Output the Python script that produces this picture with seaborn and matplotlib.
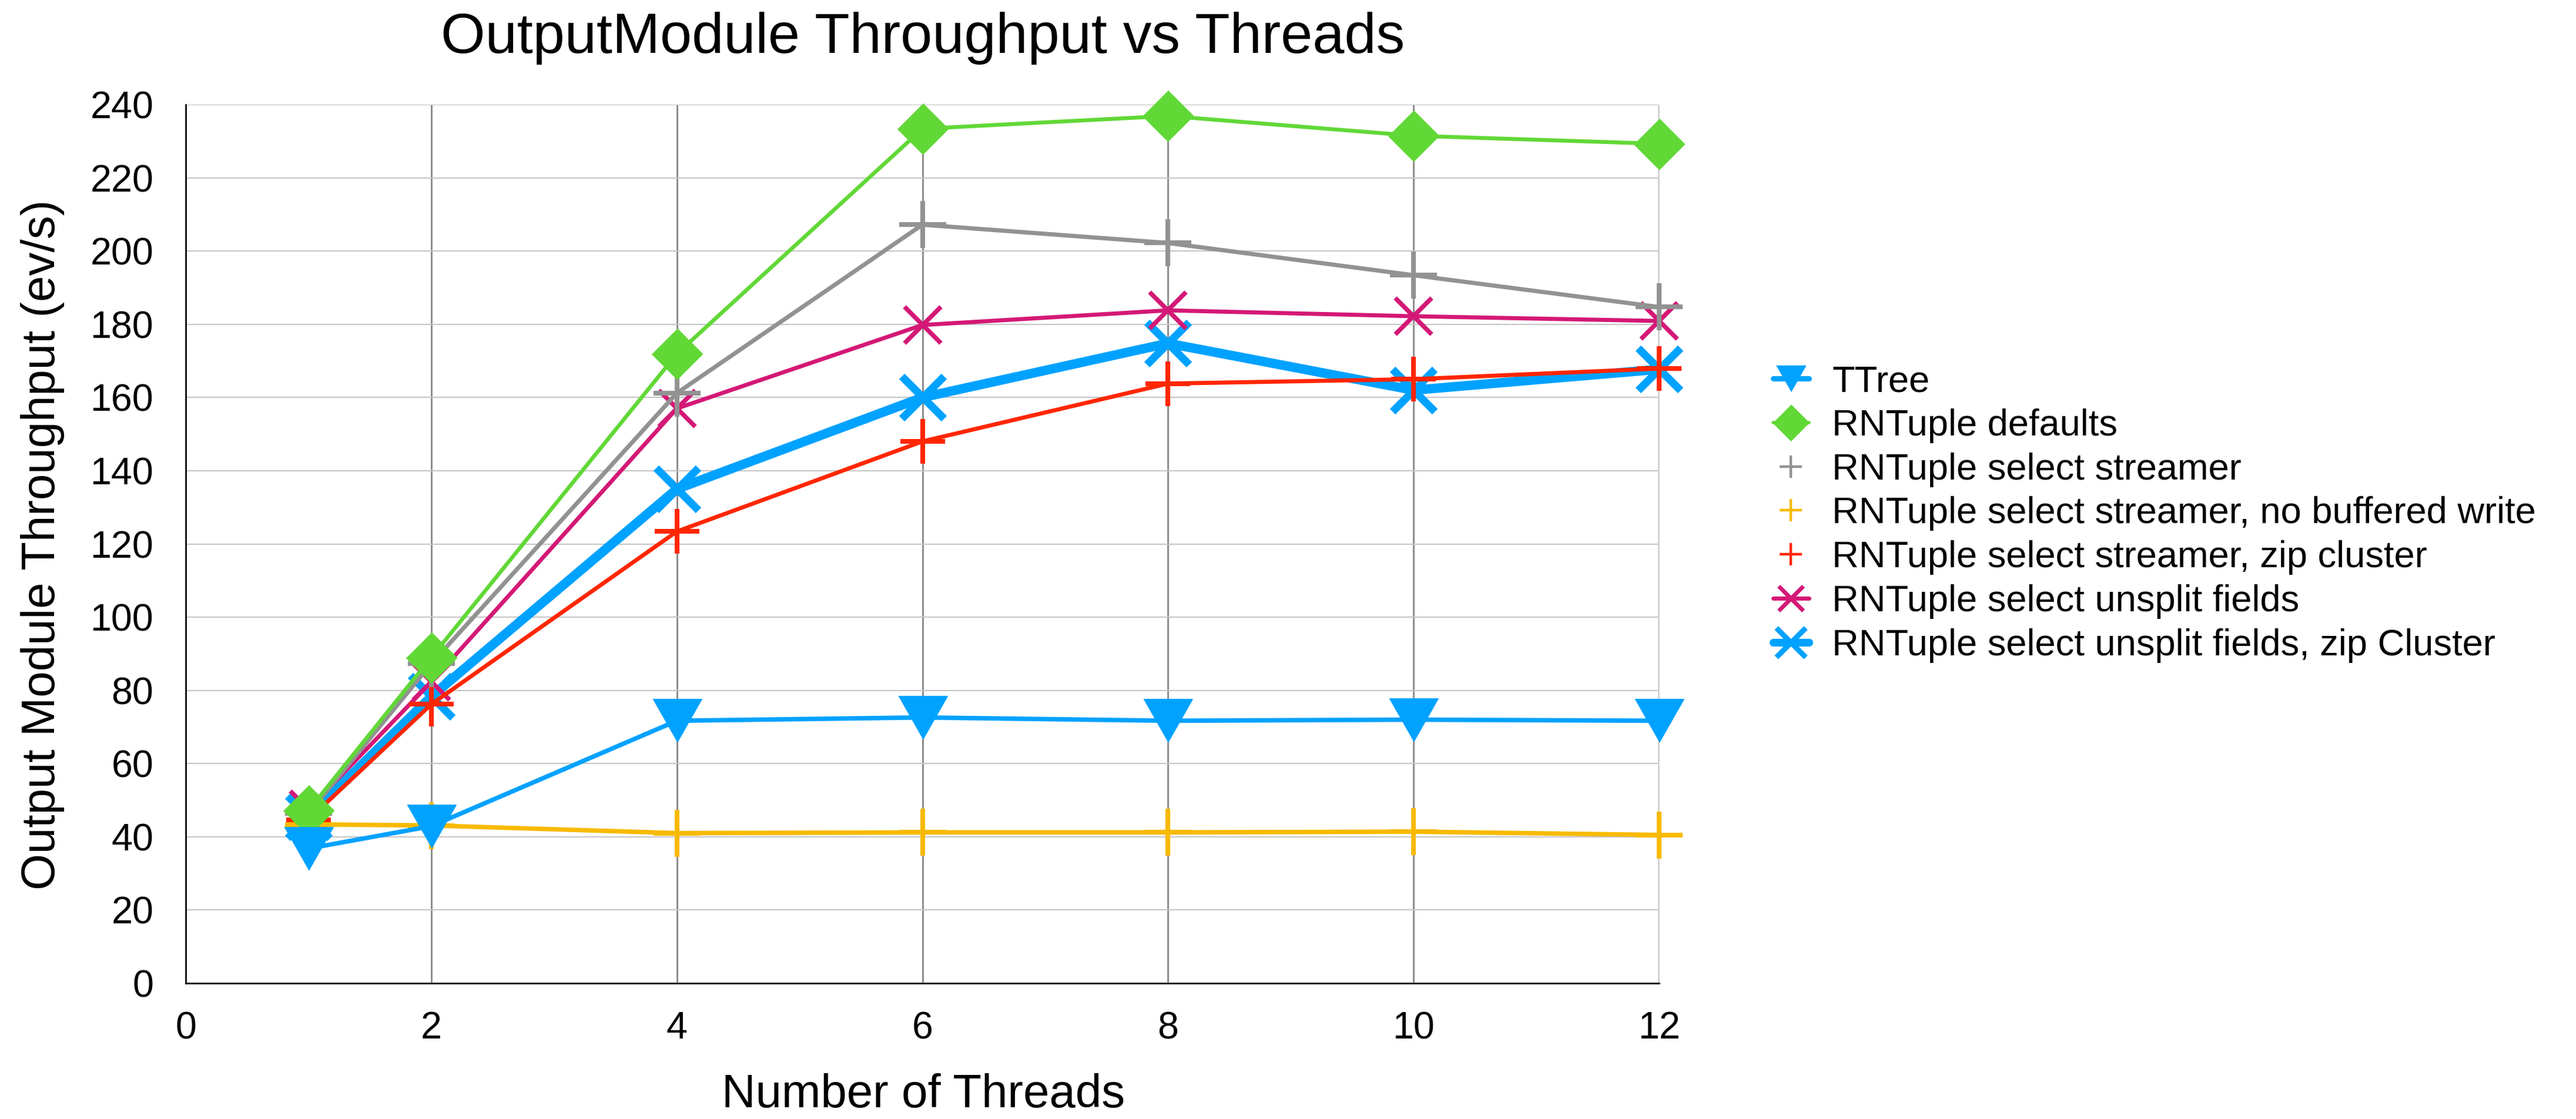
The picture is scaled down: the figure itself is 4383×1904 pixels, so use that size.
import matplotlib
matplotlib.use("Agg")
import matplotlib.pyplot as plt
from matplotlib.lines import Line2D
import seaborn as sns
import pandas as pd

# ---------------- data ----------------
threads = [1, 2, 4, 6, 8, 10, 12]
ttree = [36.8, 42.9, 71.7, 72.6, 71.7, 72.0, 71.7]
rnt_defaults = [47.2, 89.0, 171.9, 233.4, 236.9, 231.5, 229.3]
rnt_streamer = [46.4, 87.3, 161.2, 207.2, 202.2, 193.4, 184.7]
rnt_streamer_nobuf = [43.4, 43.1, 41.0, 41.2, 41.2, 41.4, 40.5]
rnt_streamer_zip = [44.7, 76.2, 123.4, 148.0, 163.8, 165.0, 167.9]
rnt_unsplit = [47.5, 82.3, 157.0, 179.8, 183.8, 182.2, 180.9]
rnt_unsplit_zip = [45.5, 78.3, 135.0, 160.0, 174.8, 162.0, 167.7]

series_names = [
    "TTree",
    "RNTuple defaults",
    "RNTuple select streamer",
    "RNTuple select streamer, no buffered write",
    "RNTuple select streamer, zip cluster",
    "RNTuple select unsplit fields",
    "RNTuple select unsplit fields, zip Cluster",
]
series_values = [ttree, rnt_defaults, rnt_streamer, rnt_streamer_nobuf,
                 rnt_streamer_zip, rnt_unsplit, rnt_unsplit_zip]
x_ticks = [0, 2, 4, 6, 8, 10, 12]
y_ticks = [0, 20, 40, 60, 80, 100, 120, 140, 160, 180, 200, 220, 240]

title = "OutputModule Throughput vs Threads"
xlabel = "Number of Threads"
ylabel = "Output Module Throughput (ev/s)"

# ---------------- styles ----------------
tri = [(-1, 0.88), (1, 0.88), (0, -0.88)]
dia = [(0, 1), (1, 0), (0, -1), (-1, 0)]
styles = {
    "TTree": dict(color="#00A2FF", marker=tri, ms=60, mew=1, lw=5.5, z=10,
                  leg=dict(marker=tri, ms=36, mew=1, lw=6.5, ls="-")),
    "RNTuple defaults": dict(color="#61D836", marker=dia, ms=62, mew=1, lw=4.8, z=9,
                             leg=dict(marker=dia, ms=44, mew=1, lw=4, ls="-")),
    "RNTuple select streamer": dict(color="#929292", marker="+", ms=57, mew=5.8, lw=5.2, z=8,
                                    leg=dict(marker="+", ms=27, mew=3.2, lw=0, ls="None")),
    "RNTuple select streamer, no buffered write": dict(color="#F8BA00", marker="+", ms=57, mew=5.8, lw=5.5, z=7,
                                                       leg=dict(marker="+", ms=27, mew=3.2, lw=0, ls="None")),
    "RNTuple select streamer, zip cluster": dict(color="#FF2600", marker="+", ms=55, mew=5.8, lw=5.0, z=6,
                                                 leg=dict(marker="+", ms=27, mew=3.2, lw=0, ls="None")),
    "RNTuple select unsplit fields": dict(color="#D41876", marker="x", ms=45, mew=5.5, lw=5.0, z=5,
                                          leg=dict(marker="x", ms=30, mew=5, lw=5, ls="-")),
    "RNTuple select unsplit fields, zip Cluster": dict(color="#00A2FF", marker="x", ms=52, mew=9.5, lw=11.5, z=4,
                                                      leg=dict(marker="x", ms=36, mew=6.5, lw=9.5, ls="-")),
}

df = pd.concat(
    [pd.DataFrame({"threads": threads, "throughput": v, "series": n})
     for n, v in zip(series_names, series_values)],
    ignore_index=True,
)

# ---------------- figure ----------------
sns.set_theme(style="white")
plt.rcParams["font.family"] = ["Liberation Sans", "DejaVu Sans"]
plt.rcParams["text.color"] = "black"
plt.rcParams["xtick.color"] = "black"
plt.rcParams["ytick.color"] = "black"

W, H = 4383, 1904
fig = plt.figure(figsize=(W / 100, H / 100), dpi=100)
fig.patch.set_facecolor("white")
ax_left, ax_right, ax_top, ax_bottom = 316, 2823, 178, 1673
ax = fig.add_axes([ax_left / W, 1 - ax_bottom / H,
                   (ax_right - ax_left) / W, (ax_bottom - ax_top) / H])

for name in series_names:
    st = styles[name]
    sns.lineplot(data=df[df["series"] == name], x="threads", y="throughput", ax=ax,
                 color=st["color"], marker=st["marker"], markersize=st["ms"],
                 markeredgewidth=st["mew"], markeredgecolor=st["color"],
                 markerfacecolor=st["color"], linewidth=st["lw"],
                 zorder=st["z"], clip_on=False, legend=False,
                 solid_joinstyle="miter")

ax.set_xlim(0, 12)
ax.set_ylim(0, 240)
ax.set_xticks(x_ticks)
ax.set_yticks(y_ticks)
ax.set_xlabel("")
ax.set_ylabel("")
ax.set_axisbelow(True)
ax.yaxis.grid(True, color="#c6c6c6", linewidth=1.5)
ax.xaxis.grid(True, color="#808080", linewidth=1.9)
for s in ["top", "right"]:
    ax.spines[s].set_visible(False)
for s in ["left", "bottom"]:
    ax.spines[s].set_color("black")
    ax.spines[s].set_linewidth(1.9)
ax.tick_params(axis="y", length=0, labelsize=46.5, pad=39.5)
ax.tick_params(axis="x", length=0, labelsize=46.5, pad=34)

# titles / labels
fig.text(1570 / W, 1 - 90 / H, title, ha="center", va="baseline", fontsize=70)
fig.text(1571 / W, 1 - 1884 / H, xlabel, ha="center", va="baseline", fontsize=57.5)
fig.text(73 / W, 1 - 927 / H, ylabel, ha="center", va="center", rotation=90, fontsize=57.5)

# legend
handles = []
for name in series_names:
    st = styles[name]
    lg = st["leg"]
    handles.append(Line2D([], [], color=st["color"], marker=lg["marker"], markersize=lg["ms"],
                          markeredgewidth=lg["mew"], markeredgecolor=st["color"],
                          markerfacecolor=st["color"], linewidth=lg["lw"], linestyle=lg["ls"]))
fig.legend(handles, series_names, loc="center left",
           bbox_to_anchor=(3017 / W, 1 - 874 / H), frameon=False,
           fontsize=45.5, handlelength=0.96, handletextpad=0.63,
           labelspacing=0.25, borderpad=0, borderaxespad=0, numpoints=1)

fig.savefig("out.png", dpi=100, facecolor="white")
